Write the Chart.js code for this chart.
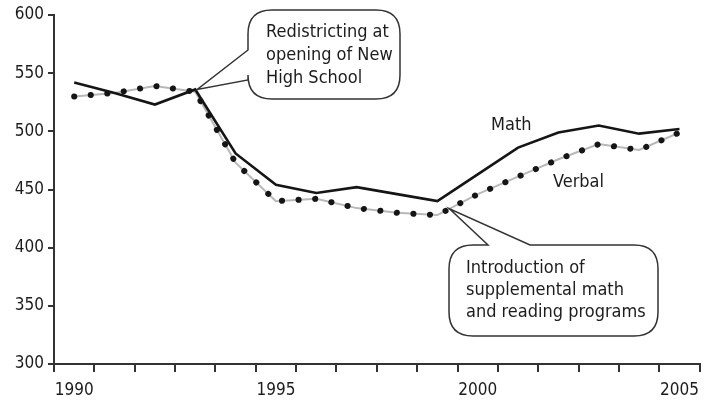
<!DOCTYPE html>
<html>
<head>
<meta charset="utf-8">
<script src="https://cdn.jsdelivr.net/npm/chart.js@4.4.1/dist/chart.umd.min.js"></script>
<style>
  html, body { margin: 0; padding: 0; background: #fff; }
  #wrap { width: 707px; height: 404px; position: relative; }
</style>
</head>
<body>
<div id="wrap"><canvas id="scoreChart"></canvas></div>
<script>
// --- Data ---
const years = [1990, 1991, 1992, 1993, 1994, 1995, 1996, 1997, 1998, 1999, 2000, 2001, 2002, 2003, 2004, 2005];
const mathScores   = [542, 533, 523, 536, 481, 454, 447, 452, 446, 440, 463, 486, 499, 505, 498, 502];
const verbalScores = [530, 533, 539, 534, 473, 440, 442, 434, 430, 428, 446, 461, 476, 489, 484, 499];
const yTicks = [300, 350, 400, 450, 500, 550, 600];

const fontFamily = '"DejaVu Sans Condensed", "DejaVu Sans", sans-serif';
const ink = '#1c1c1c';

// rounded box with a wedge pointing at (tipX, tipY); wedge base sits on one edge
function drawCallout(ctx, box, wedge, tip) {
    const { l, t, r, b, rad } = box;
    ctx.beginPath();
    ctx.moveTo(l + rad, t);
    if (wedge.side === 'top') {
        ctx.lineTo(wedge.a, t);
        ctx.lineTo(tip.x, tip.y);
        ctx.lineTo(wedge.b, t);
    }
    ctx.lineTo(r - rad, t);
    ctx.quadraticCurveTo(r, t, r, t + rad);
    ctx.lineTo(r, b - rad);
    ctx.quadraticCurveTo(r, b, r - rad, b);
    ctx.lineTo(l + rad, b);
    ctx.quadraticCurveTo(l, b, l, b - rad);
    if (wedge.side === 'left') {
        ctx.lineTo(l, wedge.b);
        ctx.lineTo(tip.x, tip.y);
        ctx.lineTo(l, wedge.a);
    }
    ctx.lineTo(l, t + rad);
    ctx.quadraticCurveTo(l, t, l + rad, t);
    ctx.closePath();
    ctx.fillStyle = '#fff';
    ctx.fill();
    ctx.lineWidth = 1.5;
    ctx.strokeStyle = '#333';
    ctx.stroke();
}

const annotations = {
    id: 'annotations',
    afterDatasetsDraw(chart) {
        const { ctx } = chart;
        const xs = chart.scales.x, ys = chart.scales.y;
        ctx.save();

        // redistricting callout, pointing at the 1993 crossing
        const tip1 = { x: xs.getPixelForValue(3) + 2, y: ys.getPixelForValue(mathScores[3]) };
        drawCallout(ctx, { l: 248, t: 10, r: 400, b: 99, rad: 24 }, { side: 'left', a: 50, b: 80 }, tip1);

        // supplemental programs callout, pointing at the verbal line after 1999
        const vx = xs.getPixelForValue(9) + 0.3 * (xs.getPixelForValue(10) - xs.getPixelForValue(9));
        const vy = ys.getPixelForValue(verbalScores[9] + 0.3 * (verbalScores[10] - verbalScores[9]));
        drawCallout(ctx, { l: 449, t: 245, r: 658, b: 336, rad: 24 }, { side: 'top', a: 488, b: 530 }, { x: vx, y: vy });

        ctx.fillStyle = ink;
        ctx.font = '18px ' + fontFamily;
        ctx.textBaseline = 'middle';
        ctx.textAlign = 'left';
        ['Redistricting at', 'opening of New', 'High School'].forEach((s, i) => ctx.fillText(s, 266, 32 + i * 23));
        ['Introduction of', 'supplemental math', 'and reading programs'].forEach((s, i) => ctx.fillText(s, 466, 268 + i * 22));

        ctx.fillText('Math', 491, 125);
        ctx.fillText('Verbal', 553, 182);
        ctx.restore();
    }
};

// datasets earlier in the list are painted on top
new Chart(document.getElementById('scoreChart').getContext('2d'), {
    type: 'line',
    data: {
        labels: years,
        datasets: [
            {
                label: 'Math',
                data: mathScores,
                borderColor: '#151515',
                borderWidth: 2.6,
                pointRadius: 0,
                tension: 0,
            },
            {
                label: 'Verbal dots',
                data: verbalScores,
                borderColor: '#151515',
                borderWidth: 6,
                borderDash: [0.1, 16.5],
                borderCapStyle: 'round',
                pointRadius: 0,
                tension: 0,
            },
            {
                label: 'Verbal',
                data: verbalScores,
                borderColor: '#b8b8b8',
                borderWidth: 2,
                pointRadius: 0,
                tension: 0,
            }
        ]
    },
    options: {
        responsive: true,
        maintainAspectRatio: false,
        animation: false,
        layout: { padding: { top: 15, right: 2, left: 0, bottom: 0 } },
        plugins: {
            legend: { display: false },
            tooltip: { enabled: false }
        },
        scales: {
            x: {
                type: 'category',
                offset: true,
                border: { color: '#333', width: 2 },
                grid: { offset: true, drawOnChartArea: false, drawTicks: true, tickLength: 8, color: '#333', lineWidth: 2 },
                ticks: {
                    autoSkip: false,
                    maxRotation: 0,
                    padding: 8,
                    color: ink,
                    font: { family: fontFamily, size: 17 },
                    callback: function (v, i) { return years[i] % 5 === 0 ? String(years[i]) : ''; }
                },
                afterFit: function (scale) { scale.height = 40; }
            },
            y: {
                min: yTicks[0],
                max: yTicks[yTicks.length - 1],
                border: { color: '#333', width: 2 },
                grid: { drawOnChartArea: false, drawTicks: true, tickLength: 6, color: '#333', lineWidth: 2 },
                ticks: {
                    stepSize: 50,
                    padding: 4,
                    color: ink,
                    font: { family: fontFamily, size: 17 }
                },
                afterBuildTicks: function (scale) { scale.ticks = yTicks.map(v => ({ value: v })); },
                afterFit: function (scale) { scale.width = 54; }
            }
        }
    },
    plugins: [annotations]
});
</script>
</body>
</html>
